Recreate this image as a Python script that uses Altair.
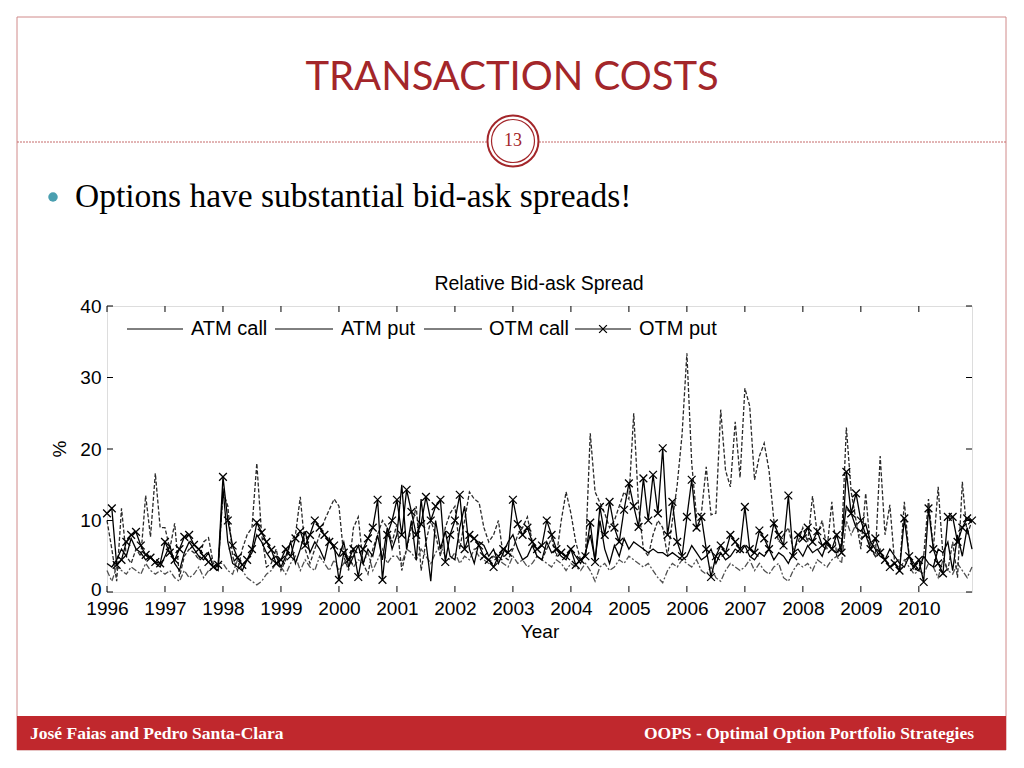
import altair as alt
import pandas as pd

# ---------------- data (monthly, Jan 1996 - Dec 2010), relative bid-ask spread in % ----------------
first_year = 1996
n_months = 180

atm_call = [
    4.0, 3.5, 4.5, 6.0, 5.0, 7.5, 6.0, 5.5, 4.5, 5.0, 4.0, 3.5,   # 1996
    5.0, 6.5, 4.0, 3.0, 5.5, 7.0, 6.0, 5.0, 4.5, 5.5, 3.5, 3.0,   # 1997
    14.5, 7.0, 4.0, 3.5, 3.0, 4.5, 5.5, 8.0, 7.0, 5.5, 4.5, 5.0,  # 1998
    3.5, 5.0, 7.0, 4.0, 6.0, 8.5, 5.5, 7.0, 6.0, 4.5, 7.5, 6.0,   # 1999
    5.0, 7.0, 3.5, 5.0, 6.5, 4.0, 6.0, 5.0, 8.0, 4.5, 9.0, 6.0,   # 2000
    8.0, 15.0, 6.0, 10.0, 4.5, 13.0, 7.0, 1.5, 10.0, 6.0, 8.5, 5.0,  # 2001
    4.5, 9.0, 12.0, 6.0, 4.0, 7.0, 6.5, 5.0, 6.0, 4.0, 5.5, 7.0,  # 2002
    8.0, 6.0, 4.5, 5.0, 6.5, 5.0, 4.5, 7.0, 5.5, 6.0, 5.0, 4.5,   # 2003
    6.0, 5.0, 4.0, 5.5, 8.0, 4.5, 10.0, 6.0, 4.0, 6.5, 5.0, 7.5,  # 2004
    6.0, 7.0, 6.5, 6.0, 5.5, 6.0, 5.5, 5.5, 5.0, 5.5, 5.0, 4.5,   # 2005
    5.0, 6.5, 5.5, 4.5, 5.0, 6.0, 4.0, 5.5, 4.5, 5.0, 6.0, 5.5,   # 2006
    6.5, 5.0, 4.5, 5.5, 5.0, 6.0, 4.5, 5.5, 5.0, 4.0, 5.5, 6.0,   # 2007
    5.0, 6.5, 5.5, 6.0, 5.0, 7.0, 6.0, 5.5, 6.5, 12.0, 11.0, 9.0, # 2008
    8.5, 9.5, 7.0, 6.0, 5.0, 4.5, 6.0, 5.0, 4.0, 3.5, 5.0, 4.0,   # 2009
    3.0, 5.0, 4.0, 3.5, 6.0, 5.5, 7.0, 3.0, 8.0, 5.0, 9.0, 6.0,   # 2010
]

atm_put = [
    3.0, 1.5, 3.5, 3.0, 2.5, 3.5, 3.0, 2.5, 4.0, 3.0, 2.5, 3.0,
    2.5, 3.0, 2.0, 1.5, 3.0, 2.0, 2.5, 3.5, 2.0, 3.0, 3.5, 4.0,
    4.0, 3.0, 2.5, 4.5, 3.0, 2.0, 1.5, 1.0, 1.5, 2.5, 3.0, 4.0,
    3.5, 2.5, 4.0, 5.0, 3.0, 4.5, 3.5, 3.0, 5.0, 4.0, 3.0, 4.5,
    3.0, 4.0, 5.0, 3.5, 4.5, 4.0, 5.5, 3.0, 4.5, 6.0, 4.0, 5.0,
    5.0, 4.0, 6.0, 5.5, 4.5, 6.0, 5.0, 4.0, 5.5, 6.5, 5.0, 4.5,
    5.5, 4.0, 5.0, 4.5, 6.0, 5.0, 4.5, 4.0, 5.0, 4.5, 4.0, 3.5,
    5.0, 4.0, 4.5, 3.5, 4.0, 5.0, 4.5, 4.0, 3.5, 4.5, 4.0, 3.0,
    4.0, 3.5, 3.0, 4.0, 3.0, 1.5, 3.5, 4.0, 3.0, 3.5, 4.5, 4.0,
    5.0, 4.5, 4.0, 3.5, 4.0, 3.0, 2.0, 1.3, 3.0, 4.0, 3.5, 4.5,
    4.0, 3.5, 4.5, 3.0, 2.5, 3.5, 2.0, 1.5, 3.0, 4.0, 3.5, 3.0,
    3.5, 4.5, 3.0, 4.0, 3.0, 2.5, 3.5, 4.0, 2.0, 1.5, 3.0, 4.0,
    3.5, 4.0, 3.0, 4.5, 4.0, 3.5, 4.5, 5.0, 4.0, 10.0, 8.0, 9.5,
    7.5, 8.0, 6.5, 5.0, 6.0, 4.5, 3.5, 4.0, 3.0, 4.5, 3.5, 2.5,
    3.0, 2.5, 4.0, 3.5, 2.0, 4.5, 3.0, 2.5, 4.0, 3.0, 2.0, 3.5,
]

otm_call = [
    10.0, 6.0, 1.5, 11.7, 5.0, 4.0, 6.0, 5.0, 13.5, 7.7, 16.6, 9.0,
    9.0, 6.0, 9.6, 2.1, 5.0, 6.0, 5.5, 4.5, 7.0, 7.6, 4.0, 3.5,
    14.0, 12.0, 5.0, 3.0, 6.0, 8.0, 9.0, 18.0, 8.0, 3.5, 4.0, 6.0,
    3.0, 4.5, 7.0, 8.0, 13.3, 6.0, 4.0, 6.0, 8.0, 10.0, 11.5, 13.0,
    12.0, 5.0, 3.0, 9.0, 10.5, 4.0, 2.5, 6.0, 8.0, 10.0, 9.0, 7.0,
    9.5, 3.0, 6.0, 9.0, 12.0, 3.0, 7.0, 10.0, 8.0, 5.0, 9.0, 11.0,
    12.0, 6.0, 10.0, 14.0, 13.0, 12.5, 9.0, 7.0, 8.0, 10.0, 5.0, 4.5,
    6.0, 8.0, 9.0, 10.5, 7.0, 5.0, 4.5, 6.0, 7.5, 5.0, 10.0, 14.0,
    11.0, 7.0, 4.5, 5.0, 22.2, 14.0, 12.5, 11.0, 9.0, 10.0, 12.0, 14.0,
    13.0, 25.0, 12.0, 6.0, 5.0, 8.0, 10.0, 9.0, 5.0, 10.0, 15.0, 22.0,
    33.4, 18.0, 10.5, 11.0, 17.5, 10.8, 11.0, 25.5, 17.0, 14.7, 23.8, 16.0,
    28.5, 26.0, 15.7, 19.0, 20.8, 17.0, 10.0, 7.0, 8.0, 9.0, 6.0, 7.0,
    9.0, 7.0, 13.4, 8.0, 10.0, 6.0, 12.6, 5.0, 7.0, 23.0, 14.0, 10.0,
    6.0, 13.8, 6.0, 5.0, 19.0, 8.0, 12.2, 4.0, 3.0, 12.6, 5.0, 3.0,
    3.5, 5.0, 13.0, 6.0, 14.7, 5.0, 3.0, 7.0, 2.0, 15.4, 8.0, 10.0,
]

otm_put = [
    11.0, 11.7, 3.8, 4.5, 7.0, 8.0, 8.4, 6.5, 5.2, 4.8, 4.2, 4.0,
    7.0, 5.5, 4.5, 6.0, 7.7, 8.0, 6.6, 6.0, 5.0, 4.2, 3.5, 3.8,
    16.1, 10.0, 6.5, 4.8, 3.8, 4.5, 6.0, 9.7, 8.3, 7.0, 5.9, 4.0,
    4.5, 6.0, 5.0, 7.5, 8.5, 6.5, 8.0, 10.0, 9.0, 8.0, 7.0, 6.5,
    1.7, 5.5, 4.5, 6.0, 2.1, 6.0, 7.5, 9.0, 12.9, 1.7, 8.0, 10.0,
    12.9, 8.0, 14.3, 11.2, 8.0, 9.5, 13.3, 10.0, 12.0, 12.9, 4.2, 8.0,
    10.0, 13.6, 6.0, 8.0, 7.5, 6.5, 5.0, 4.5, 3.5, 5.0, 6.0, 5.5,
    12.9, 9.5, 8.0, 9.0, 7.0, 6.0, 6.5, 10.0, 8.0, 6.0, 5.5, 5.0,
    6.0, 3.8, 4.5, 5.0, 9.7, 4.2, 11.9, 8.0, 12.6, 9.0, 7.0, 11.5,
    15.2, 12.0, 9.1, 15.9, 10.0, 16.4, 11.0, 20.1, 8.0, 12.6, 7.0, 5.0,
    10.5, 15.7, 9.0, 10.5, 6.0, 2.1, 5.0, 6.5, 5.5, 8.0, 7.0, 6.0,
    11.9, 6.0, 5.5, 8.6, 7.5, 6.0, 9.6, 8.0, 6.5, 13.5, 5.0, 8.0,
    7.5, 9.0, 7.0, 8.5, 6.5, 7.0, 6.0, 8.0, 5.5, 16.8, 11.0, 13.8,
    10.0, 8.0, 6.0, 7.5, 5.5, 4.5, 3.5, 4.0, 3.0, 10.3, 5.0, 3.5,
    4.5, 1.4, 11.7, 6.0, 4.0, 2.6, 10.5, 10.5, 7.0, 9.0, 10.3, 10.0,
]

series_names = ["ATM call", "ATM put", "OTM call", "OTM put"]
year_ticks = list(range(1996, 2011))
pct_ticks = [0, 10, 20, 30, 40]

slide_title = "TRANSACTION COSTS"
slide_number = "13"
bullet_text = "Options have substantial bid-ask spreads!"
chart_title = "Relative Bid-ask Spread"
footer_left = "José Faias and Pedro Santa-Clara"
footer_right = "OOPS - Optimal Option Portfolio Strategies"

# ---------------- tables ----------------
time = [first_year + m / 12 for m in range(n_months)]
rows = []
for name, vals in zip(series_names, [atm_call, atm_put, otm_call, otm_put]):
    for t, v in zip(time, vals):
        rows.append({"year": t, "value": v, "series": name})
df = pd.DataFrame(rows)
xt = pd.DataFrame({"t": year_ticks})
yt = pd.DataFrame({"t": pct_ticks})
one = pd.DataFrame({"k": [0]})

W, H = 865, 286
PL, PT = 99, 298  # plot origin on page = (107, 306)


def px(x):
    return x - 107


def py(y):
    return y - 306


x_scale = alt.Scale(domain=[1996, time[-1]], nice=False, zero=False)
y_scale = alt.Scale(domain=[0, 40], nice=False)

AX = "Liberation Sans, Arial, sans-serif"
SERIF = "Liberation Serif, serif"
RED = "#a3262a"

x_axis = alt.Axis(values=year_ticks, format="d", title=None, ticks=False, tickSize=0,
                  domain=False, grid=False, labelFontSize=19, labelFont=AX,
                  labelColor="black", labelPadding=7, labelFlush=False, zindex=1)
y_axis = alt.Axis(values=pct_ticks, format="d", title=None, ticks=False, tickSize=0,
                  domain=False, grid=False, labelFontSize=19, labelFont=AX,
                  labelColor="black", labelPadding=6, zindex=1,
                  labelOffset={"condition": {"test": "datum.value == 0", "value": -3}, "value": 0})

base = alt.Chart(df)


def line_layer(name, **style):
    return base.transform_filter(alt.datum.series == name).mark_line(
        strokeWidth=1.3, **style).encode(
        x=alt.X("year:Q", scale=x_scale, axis=x_axis),
        y=alt.Y("value:Q", scale=y_scale, axis=y_axis),
    )


lines = [
    line_layer("ATM put", color="#505050", strokeDash=[6, 2, 2, 2]),
    line_layer("OTM call", color="#2a2a2a", strokeDash=[4, 2]),
    line_layer("ATM call", color="#000000"),
    line_layer("OTM put", color="#000000"),
]
XSHAPE = "M-1,-1L1,1M-1,1L1,-1"
markers = base.transform_filter(alt.datum.series == "OTM put").mark_point(
    shape=XSHAPE, filled=False, color="black", size=60, strokeWidth=1.3, opacity=1).encode(
    x=alt.X("year:Q", scale=x_scale), y=alt.Y("value:Q", scale=y_scale))

# inward ticks on all four sides (MATLAB style)
tk = dict(color="black", strokeWidth=1)
ticks = [
    alt.Chart(xt).mark_rule(**tk).encode(x=alt.X("t:Q", scale=x_scale), y=alt.value(H), y2=alt.value(H - 6)),
    alt.Chart(xt).mark_rule(**tk).encode(x=alt.X("t:Q", scale=x_scale), y=alt.value(0), y2=alt.value(6)),
    alt.Chart(yt).mark_rule(**tk).encode(y=alt.Y("t:Q", scale=y_scale), x=alt.value(0), x2=alt.value(6)),
    alt.Chart(yt).mark_rule(**tk).encode(y=alt.Y("t:Q", scale=y_scale), x=alt.value(W), x2=alt.value(W - 6)),
]


def txt(s, x, y, **kw):
    return alt.Chart(one).mark_text(text=s, **kw).encode(x=alt.value(px(x)), y=alt.value(py(y)))


def hrule(x1, x2, y, **kw):
    return alt.Chart(one).mark_rule(**kw).encode(x=alt.value(px(x1)), x2=alt.value(px(x2)), y=alt.value(py(y)))


# legend inside the plot
LFS = 20
legend = [
    hrule(127, 183, 329, color="black"),
    txt("ATM call", 191, 329, align="left", baseline="middle", font=AX, fontSize=LFS),
    hrule(275, 333, 329, color="black"),
    txt("ATM put", 341, 329, align="left", baseline="middle", font=AX, fontSize=LFS),
    hrule(424, 482, 329, color="black"),
    txt("OTM call", 489, 329, align="left", baseline="middle", font=AX, fontSize=LFS),
    hrule(575, 631, 329, color="black"),
    alt.Chart(one).mark_point(shape=XSHAPE, filled=False, color="black", size=60, strokeWidth=1.3, opacity=1).encode(
        x=alt.value(px(603)), y=alt.value(py(329))),
    txt("OTM put", 639, 329, align="left", baseline="middle", font=AX, fontSize=LFS),
]

axis_titles = [
    txt(chart_title, 539, 284, align="center", baseline="middle", font=AX, fontSize=19.5),
    txt("Year", 540, 632, align="center", baseline="middle", font=AX, fontSize=19),
    txt("%", 60, 449, align="center", baseline="middle", font=AX, fontSize=19, angle=270),
]

# slide decoration
slide = [
    alt.Chart(one).mark_rect(fill="transparent", stroke="#d08a8a", strokeWidth=1).encode(
        x=alt.value(px(17)), x2=alt.value(px(1006)), y=alt.value(py(17)), y2=alt.value(py(750))),
    alt.Chart(one).mark_rect(fill="#c0282d").encode(
        x=alt.value(px(17)), x2=alt.value(px(1006)), y=alt.value(py(716)), y2=alt.value(py(750))),
    txt(slide_title, 512, 78, align="center", baseline="middle", font="Lato, Open Sans, sans-serif",
        fontSize=40, color=RED),
    hrule(17, 487, 142, color="#c56a6a", strokeDash=[2, 1]),
    hrule(539, 1006, 142, color="#c56a6a", strokeDash=[2, 1]),
    alt.Chart(one).mark_point(shape="circle", filled=False, color=RED, size=2600, strokeWidth=2, opacity=1).encode(
        x=alt.value(px(513)), y=alt.value(py(141))),
    alt.Chart(one).mark_point(shape="circle", filled=False, color=RED, size=1850, strokeWidth=1.2, opacity=1).encode(
        x=alt.value(px(513)), y=alt.value(py(141))),
    txt(slide_number, 513, 141, align="center", baseline="middle", font=SERIF,
        fontSize=18, color=RED),
    alt.Chart(one).mark_point(shape="circle", filled=True, color="#4a9fb0", size=90, opacity=1).encode(
        x=alt.value(px(53)), y=alt.value(py(197))),
    txt(bullet_text, 75, 197, align="left", baseline="middle", font=SERIF,
        fontSize=33.5, color="black"),
    txt(footer_left, 30, 734, align="left", baseline="middle", font=SERIF,
        fontSize=17.5, fontWeight="bold", color="white"),
    txt(footer_right, 974, 734, align="right", baseline="middle", font=SERIF,
        fontSize=17.5, fontWeight="bold", color="white"),
]

chart = alt.layer(*slide, *lines, markers, *ticks, *legend, *axis_titles).properties(
    width=W, height=H,
    autosize=alt.AutoSizeParams(type="none"),
    padding={"left": PL, "top": PT, "right": 1016 - 972, "bottom": 760 - 592},
).configure_view(stroke="black", strokeWidth=1).configure(background="white")

chart.save("out.html", embed_options={"renderer": "svg", "actions": False})
